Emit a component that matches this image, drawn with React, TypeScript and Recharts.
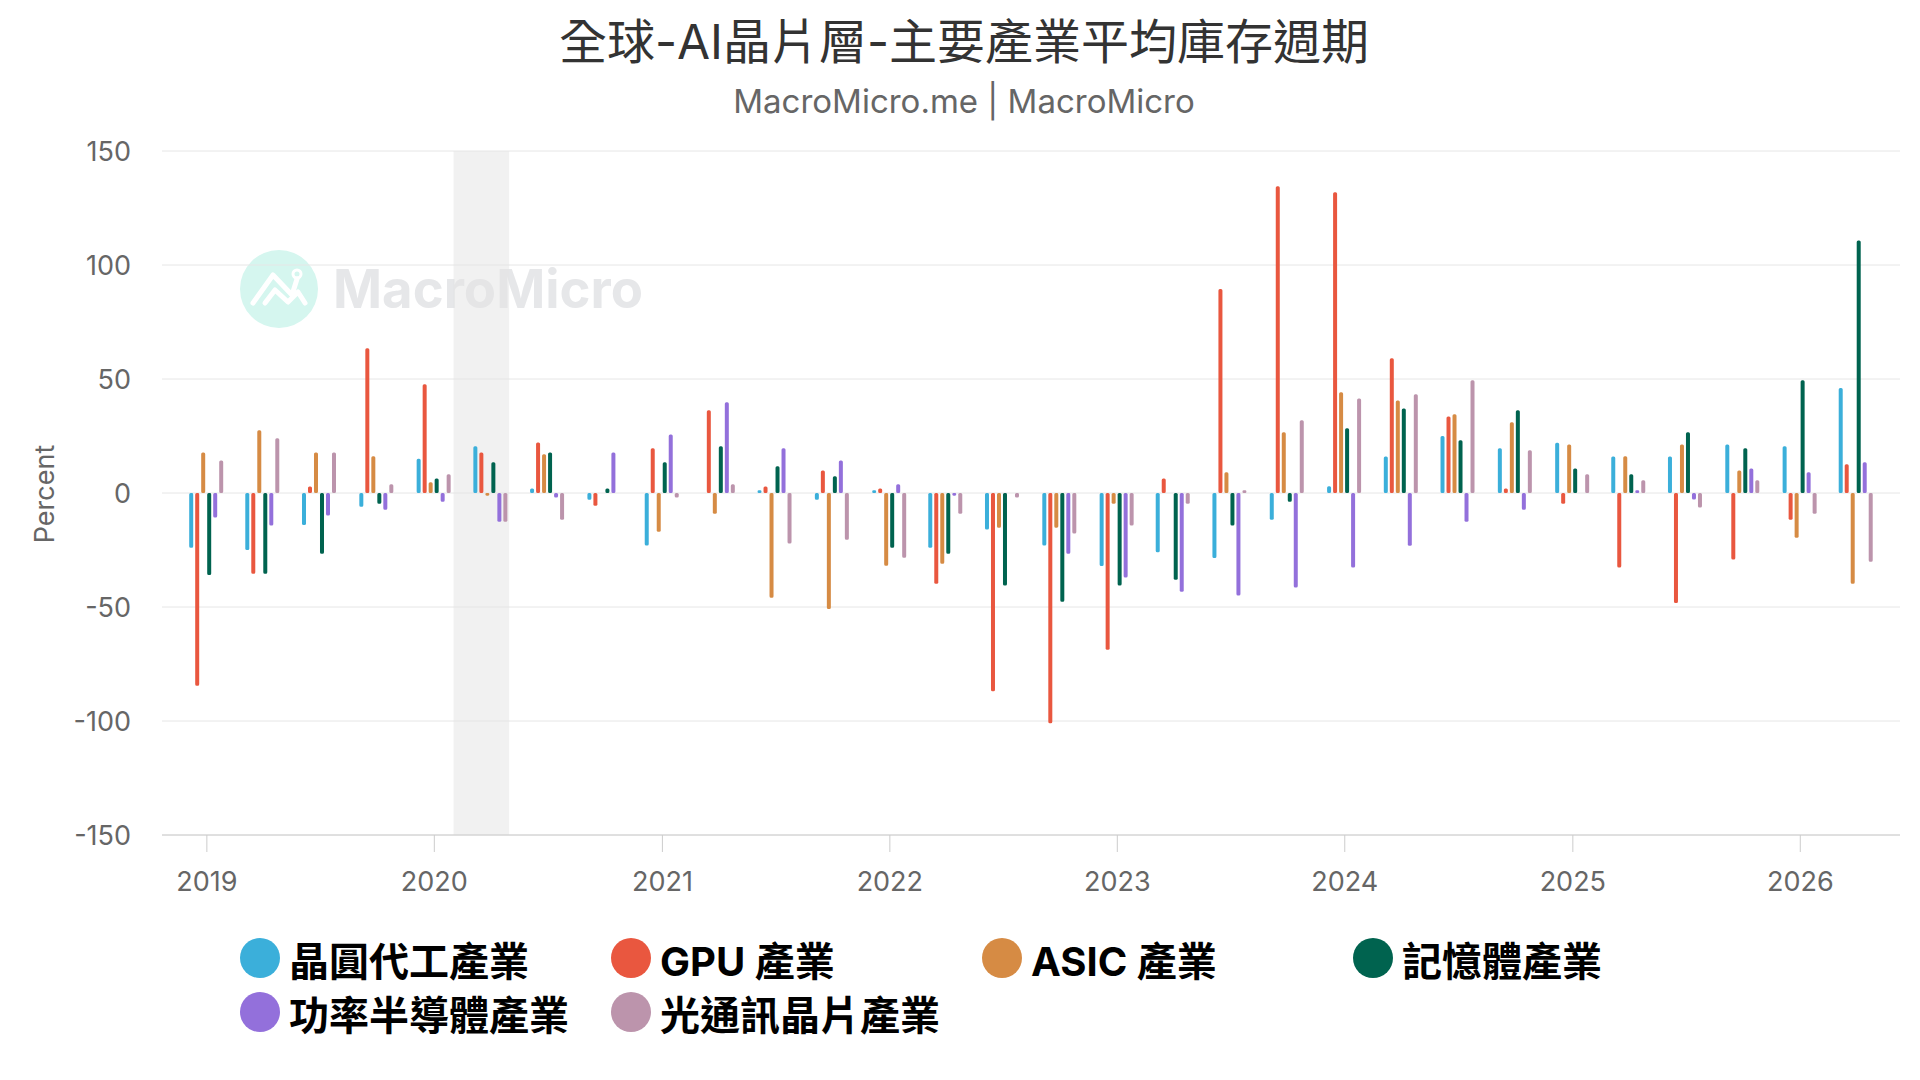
import { BarChart, Bar, XAxis, YAxis, CartesianGrid, ReferenceArea } from "recharts";

// quarter-end dates of each group of bars
const quarters = [
  "2018-12-31", "2019-03-31", "2019-06-30", "2019-09-30",
  "2019-12-31", "2020-03-31", "2020-06-30", "2020-09-30",
  "2020-12-31", "2021-03-31", "2021-06-30", "2021-09-30",
  "2021-12-31", "2022-03-31", "2022-06-30", "2022-09-30",
  "2022-12-31", "2023-03-31", "2023-06-30", "2023-09-30",
  "2023-12-31", "2024-03-31", "2024-06-30", "2024-09-30",
  "2024-12-31", "2025-03-31", "2025-06-30", "2025-09-30",
  "2025-12-31", "2026-03-31",
];

const foundry = [
  -24, -25, -14, -6, 15, 20.5, 2, -3, -23, 0, 1.2, -3, 1.2, -24, -16,
  -23, -32, -26, -28.5, -11.7, 3, 16, 25, 19.6, 22, 16, 16, 21.3, 20.5, 46,
];
const gpu = [
  -84.5, -35.4, 2.9, 63.5, 47.7, 17.8, 22.2, -5.6, 19.6, 36.3, 2.9, 9.9, 2, -39.8, -87,
  -101, -68.7, 6.4, 89.5, 134.5, 131.9, 59.1, 33.6, 2, -4.7, -32.7, -48.2, -29.2, -11.7, 12.6,
];
const asic = [
  17.8, 27.5, 17.8, 16.1, 4.7, -1.2, 17, 0, -17, -9.1, -45.9, -50.9, -31.9, -31, -15.2,
  -15.2, -4.7, 0, 9.1, 26.6, 44.2, 40.6, 34.5, 31, 21.3, 16.1, 21.3, 9.9, -19.6, -39.8,
];
const memory = [
  -36, -35.4, -26.6, -4.7, 6.4, 13.5, 17.8, 2, 13.5, 20.5, 11.7, 7.3, -24, -26.6, -40.6,
  -47.7, -40.6, -38, -14.3, -3.8, 28.4, 37.1, 23.1, 36.3, 10.8, 8.2, 26.6, 19.6, 49.4, 110.8,
];
const power = [
  -10.8, -14.3, -9.9, -7.3, -3.8, -12.6, -2, 17.8, 25.7, 39.8, 19.6, 14.3, 3.8, -1.2, 0,
  -26.6, -37.1, -43.3, -45, -41.5, -32.7, -23.1, -12.6, -7.3, 0, 1.2, -2.9, 10.8, 9.1, 13.5,
];
const optical = [
  14.3, 24, 17.8, 3.8, 8.2, -12.6, -11.7, 0, -2, 3.8, -22.2, -20.5, -28.4, -9.1, -2,
  -17.8, -14.3, -4.7, 1.2, 31.9, 41.5, 43.3, 49.4, 18.7, 8.2, 5.6, -6.4, 5.6, -9.1, -30.1,
];

const yearLabels = [2019, 2020, 2021, 2022, 2023, 2024, 2025, 2026];
const yTicks = [-150, -100, -50, 0, 50, 100, 150];

const series = [
  { key: "foundry", name: "晶圓代工產業", color: "#3bafda", values: foundry },
  { key: "gpu", name: "GPU 產業", color: "#e9573f", values: gpu },
  { key: "asic", name: "ASIC 產業", color: "#d68b44", values: asic },
  { key: "memory", name: "記憶體產業", color: "#00634f", values: memory },
  { key: "power", name: "功率半導體產業", color: "#9370db", values: power },
  { key: "optical", name: "光通訊晶片產業", color: "#bc94ac", values: optical },
];

const toTs = (d: string) => Date.parse(d + "T00:00:00Z");

const rows = quarters.map((q, i) => {
  const row: Record<string, number> = { t: toTs(q) };
  series.forEach((s) => {
    row[s.key] = s.values[i];
  });
  return row;
});

const yearTicks = yearLabels.map((y) => Date.UTC(y, 0, 1));
const xDomain = [toTs("2018-10-21"), toTs("2026-06-10")];
const recession = [toTs("2020-02-01"), toTs("2020-04-30")];

const FONT = "Inter, 'Noto Sans CJK TC', 'Noto Sans', sans-serif";

function Watermark() {
  return (
    <svg width={1920} height={1080} style={{ position: "absolute", left: 0, top: 0 }}>
      <circle cx={279} cy={289} r={39} fill="#d5f6ef" />
      <polyline
        points="253,303 273,275 292,295 297,279"
        fill="none"
        stroke="#fff"
        strokeWidth={5}
        strokeLinecap="round"
        strokeLinejoin="round"
      />
      <polyline
        points="265,303 275,290 288,302 298,292 305,303"
        fill="none"
        stroke="#fff"
        strokeWidth={5}
        strokeLinecap="round"
        strokeLinejoin="round"
      />
      <circle cx={297} cy={274} r={4} fill="none" stroke="#fff" strokeWidth={3} />
      <text
        x={333}
        y={308}
        fontSize={53}
        fontWeight={700}
        fill="#e6e7e9"
        textLength={310}
        lengthAdjust="spacingAndGlyphs"
      >
        MacroMicro
      </text>
      <text
        x={44}
        y={494}
        fontSize={27}
        fill="#666666"
        textAnchor="middle"
        dominantBaseline="central"
        transform="rotate(-90, 44, 494)"
      >
        Percent
      </text>
    </svg>
  );
}

export default function App() {
  return (
    <div
      style={{
        position: "absolute",
        left: 0,
        top: 0,
        width: 1920,
        height: 1080,
        background: "#fff",
        fontFamily: FONT,
        overflow: "hidden",
      }}
    >
      <Watermark />

      <div style={{ position: "absolute", left: 0, top: 0 }}>
        <BarChart
          width={1920}
          height={1080}
          data={rows}
          margin={{ top: 151, right: 20, bottom: 185, left: 0 }}
          barSize={4}
          barGap={2}
        >
          <CartesianGrid vertical={false} stroke="#e6e6e6" />
          <ReferenceArea
            x1={recession[0]}
            x2={recession[1]}
            fill="#e4e4e4"
            fillOpacity={0.5}
            stroke="none"
          />
          <XAxis
            dataKey="t"
            type="number"
            domain={xDomain}
            ticks={yearTicks}
            interval={0}
            height={60}
            tickFormatter={(v: number) => String(new Date(v).getUTCFullYear())}
            tick={{ fill: "#666666", fontSize: 27 }}
            tickSize={17}
            tickMargin={20}
            tickLine={{ stroke: "#cccccc" }}
            axisLine={{ stroke: "#cccccc" }}
          />
          <YAxis
            type="number"
            domain={[-150, 150]}
            ticks={yTicks}
            interval={0}
            width={162}
            tick={{ fill: "#666666", fontSize: 27 }}
            tickSize={0}
            tickMargin={31}
            tickLine={false}
            axisLine={false}
          />
          {series.map((s) => (
            <Bar
              key={s.key}
              dataKey={s.key}
              name={s.name}
              fill={s.color}
              radius={1.5}
              isAnimationActive={false}
            />
          ))}
        </BarChart>
      </div>

      {/* title */}
      <div
        style={{
          position: "absolute",
          left: 4,
          top: 18,
          width: 1920,
          textAlign: "center",
          fontSize: 48,
          lineHeight: "48px",
          color: "#333333",
        }}
      >
        全球-AI晶片層-主要產業平均庫存週期
      </div>
      <div
        style={{
          position: "absolute",
          left: 4,
          top: 85,
          width: 1920,
          textAlign: "center",
          fontSize: 33,
          lineHeight: "33px",
          color: "#666666",
        }}
      >
        MacroMicro.me | MacroMicro
      </div>

      {/* legend */}
      {series.map((s, i) => {
        const col = i % 4;
        const row = Math.floor(i / 4);
        return (
          <div
            key={s.key}
            style={{
              position: "absolute",
              left: 240 + col * 371,
              top: 938 + row * 54,
              height: 40,
              display: "flex",
              alignItems: "center",
              whiteSpace: "nowrap",
            }}
          >
            <div
              style={{
                width: 40,
                height: 40,
                borderRadius: 20,
                background: s.color,
                marginRight: 9,
              }}
            />
            <span
              style={{
                fontSize: 40,
                fontWeight: 700,
                color: "#000",
                lineHeight: "40px",
                position: "relative",
                top: 4,
              }}
            >
              {s.name}
            </span>
          </div>
        );
      })}
    </div>
  );
}
